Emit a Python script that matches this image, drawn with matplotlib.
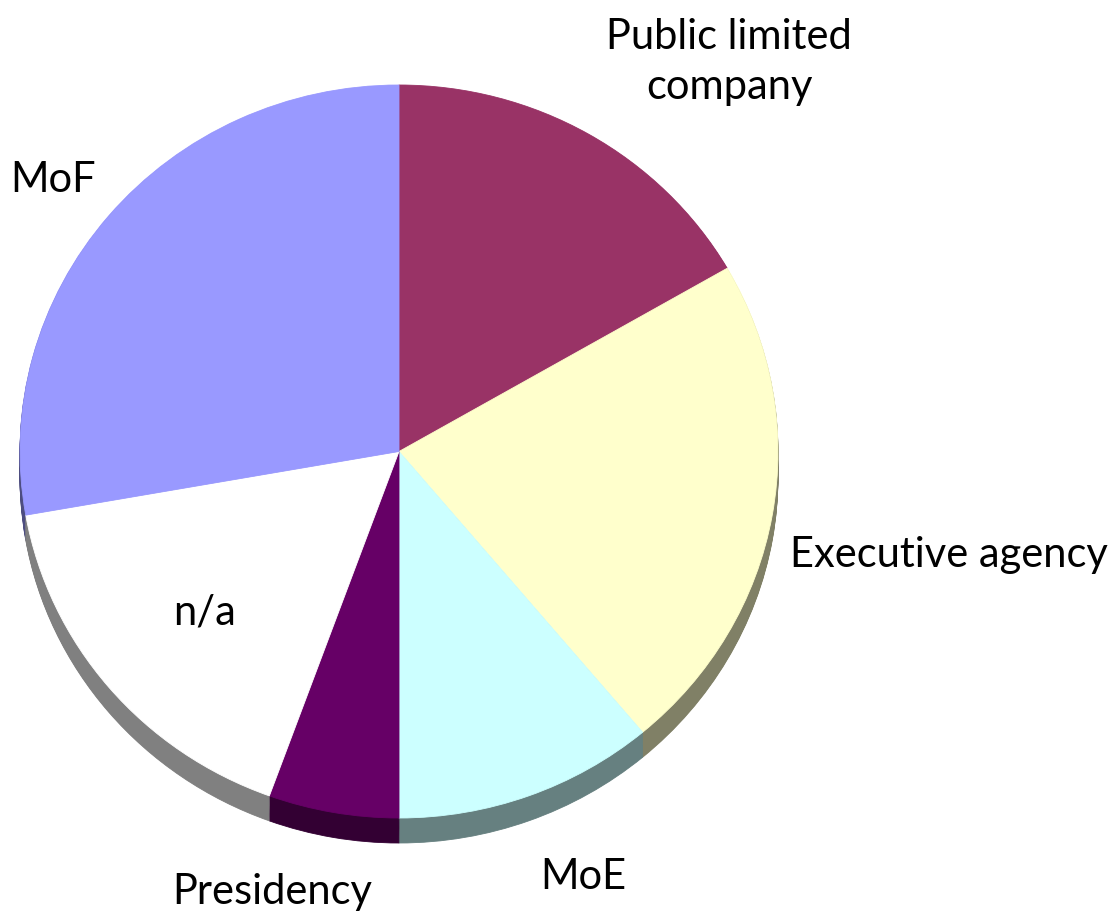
import matplotlib
matplotlib.use("Agg")
import matplotlib.pyplot as plt
import matplotlib.colors as mcolors

# ---- data ----
categories = ["Public limited company", "Executive agency", "MoE", "Presidency", "n/a", "MoF"]
counts = [3, 4, 2, 1, 3, 5]
colors = ["#993366", "#FFFFCC", "#CCFFFF", "#660066", "#FFFFFF", "#9999FF"]

W, H = 1112, 917
fig = plt.figure(figsize=(W / 100, H / 100), dpi=100)
ax = fig.add_axes([0, 0, 1, 1])

# pixel geometry of the pie (layout)
cx, cy, rx, ry = 399.0, 451.5, 379.0, 366.5
depth_px = 25


def px(x, y):
    return (x - cx) / rx, (cy - y) / ry


def darker(c, f=0.5):
    r, g, b = mcolors.to_rgb(c)
    return (r * f, g * f, b * f)


shadow_colors = [darker(c) for c in colors]

# extruded side (3D rim)
nlayers = 26
for i in range(nlayers, 0, -1):
    off = -(depth_px * i / nlayers) / ry
    ax.pie(counts, colors=shadow_colors, startangle=90, counterclock=False,
           center=(0, off), radius=1,
           wedgeprops=dict(linewidth=0.6))
    for w, c in zip(ax.patches[-len(counts):], shadow_colors):
        w.set_edgecolor(c)

# top face
wedges, _ = ax.pie(counts, colors=colors, startangle=90, counterclock=False,
                   center=(0, 0), radius=1,
                   wedgeprops=dict(linewidth=0.6))
for w, c in zip(wedges, colors):
    w.set_edgecolor(c)

ax.set_aspect("auto")
x0, y0 = px(0, 0)
x1, y1 = px(W, H)
ax.set_xlim(x0, x1)
ax.set_ylim(y1, y0)
ax.axis("off")

# labels (positions in image pixels)
label_pos = {
    "Public limited company": (729, 62),
    "Executive agency": (949, 555),
    "MoE": (583, 877),
    "Presidency": (272, 892),
    "n/a": (205, 612),
    "MoF": (53, 180),
}
label_text = {"Public limited company": "Public limited\ncompany"}
for cat in categories:
    x, y = px(*label_pos[cat])
    ax.text(x, y, label_text.get(cat, cat), ha="center", va="center",
            fontsize=30, family="Lato", color="black", linespacing=1.4)

fig.savefig("out.png", dpi=100, facecolor="white")
